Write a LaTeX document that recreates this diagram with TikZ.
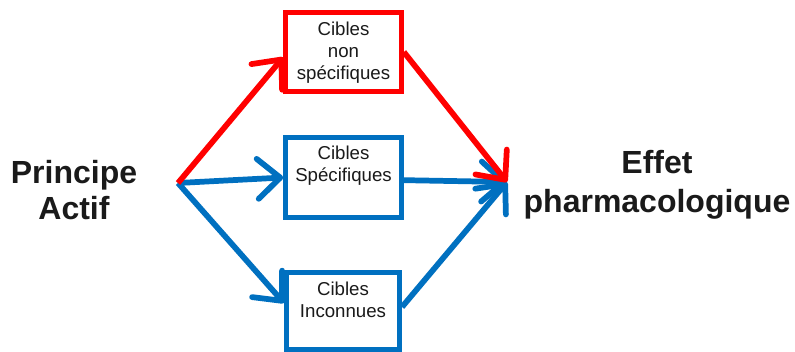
\documentclass[tikz,border=0pt]{standalone}
\usepackage{fontspec}
\setmainfont{Liberation Sans}
\usetikzlibrary{arrows.meta}
\definecolor{myred}{HTML}{FF0000}
\definecolor{myblue}{HTML}{0070C0}
\definecolor{txt}{HTML}{1A1A1A}
\begin{document}
\begin{tikzpicture}[x=0.75pt,y=-0.75pt,
  box/.style={draw,line width=3.5pt,minimum width=87pt,minimum height=59pt,inner sep=0pt},
  boxtext/.style={align=center,text=txt,font=\fontsize{14pt}{16.5pt}\selectfont,inner sep=0pt},
  big/.style={align=center,text=txt,font=\bfseries\fontsize{24pt}{26.5pt}\selectfont,inner sep=0pt},
  conn/.style={line width=4.3pt,-{Straight Barb[length=17pt,width=30pt,line width=4.3pt,round]}}]
\useasboundingbox[fill=white] (0,0) rectangle (795,351);
\node[big] (pa) at (74,190) {Principe\\Actif};
\node[big,font=\bfseries\fontsize{24pt}{29pt}\selectfont] (ef) at (657,185) {Effet\\pharmacologique};
\node[box,draw=myred] (red) at (343.5,52) {};
\node[box,draw=myblue,minimum height=60pt] (mid) at (343.5,177.5) {};
\node[box,draw=myblue,minimum width=85pt,minimum height=58pt] (bot) at (343,311) {};
\node[boxtext] (redt) at (343.5,53) {Cibles\\non\\spécifiques};
\node[boxtext] (midt) at (343.5,166) {Cibles\\Spécifiques};
\node[boxtext] (bott) at (343,300) {Cibles\\Inconnues};
\coordinate (s) at (178,183);
\coordinate (t) at (507,182);
\draw[conn,myblue] (s) -- (mid.west);
\draw[conn,myblue] (s) -- ([yshift=6pt]bot.west);
\draw[conn,myblue] ([yshift=-2pt]mid.east) -- (t);
\draw[conn,myblue] ([yshift=3pt]bot.east) -- (t);
\draw[conn,myred] (s) -- ([yshift=-4pt]red.west);
\draw[conn,myred] ([yshift=0pt]red.east) -- (t);
\end{tikzpicture}
\end{document}
